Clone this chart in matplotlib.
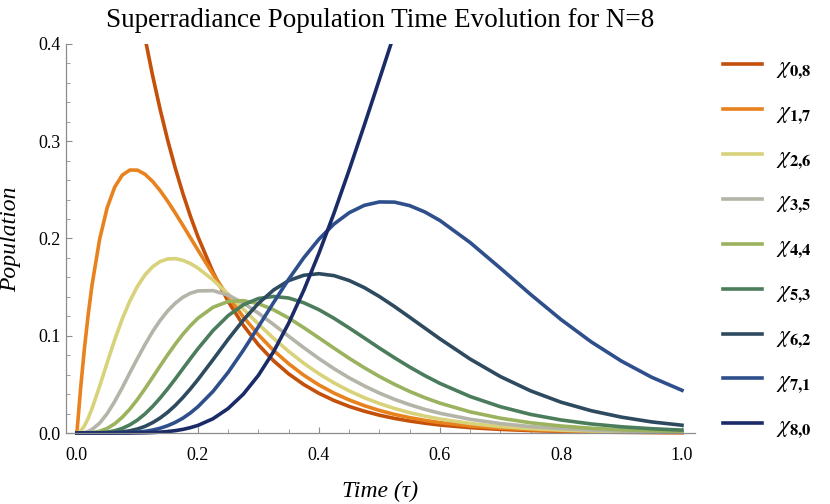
import matplotlib
matplotlib.use('Agg')
from matplotlib import pyplot as plt
from matplotlib.ticker import MultipleLocator, FormatStrFormatter

"""
    Superradiance population time evolution for N=8, values read off the reference curves.
"""

# time samples (tau)
time = [0.0, 0.00625, 0.0125, 0.01875, 0.025, 0.0375, 0.05, 0.0625, 0.075, 0.0875,
        0.1, 0.1125, 0.125, 0.1375, 0.15, 0.1625, 0.175, 0.1875, 0.2,
        0.225, 0.25, 0.275, 0.3, 0.325, 0.35, 0.375, 0.4, 0.425, 0.45, 0.475, 0.5,
        0.525, 0.55, 0.575, 0.6, 0.65, 0.7, 0.75, 0.8, 0.85, 0.9, 0.95, 1.0]

# populations chi_{k, 8-k}
p0 = [1.0, 0.9512, 0.9048, 0.8607, 0.8187, 0.7408, 0.6703, 0.6065, 0.5488, 0.4966,
      0.4493, 0.4066, 0.3679, 0.3329, 0.3012, 0.2725, 0.2466, 0.2231, 0.2019,
      0.1653, 0.1353, 0.1108, 0.0907, 0.0743, 0.0608, 0.0498, 0.0408, 0.0334, 0.0273, 0.0224, 0.0183,
      0.0150, 0.0123, 0.0101, 0.0082, 0.0055, 0.0037, 0.0025, 0.0017, 0.0011, 0.0007, 0.0005, 0.0003]
p1 = [0.0, 0.0467, 0.0872, 0.1221, 0.1521, 0.1990, 0.2316, 0.2529, 0.2652, 0.2704,
      0.2703, 0.2661, 0.2588, 0.2493, 0.2383, 0.2263, 0.2137, 0.2009, 0.1881,
      0.1633, 0.1402, 0.1194, 0.1010, 0.0849, 0.0712, 0.0594, 0.0494, 0.0410, 0.0340, 0.0281, 0.0232,
      0.0191, 0.0158, 0.0130, 0.0107, 0.0072, 0.0049, 0.0033, 0.0022, 0.0015, 0.0010, 0.0007, 0.0004]
p2 = [0.0, 0.0020, 0.0074, 0.0153, 0.0251, 0.0479, 0.0722, 0.0959, 0.1173, 0.1357,
      0.1508, 0.1625, 0.1709, 0.1763, 0.1789, 0.1793, 0.1776, 0.1743, 0.1696,
      0.1574, 0.1428, 0.1274, 0.1120, 0.0974, 0.0839, 0.0717, 0.0609, 0.0515, 0.0433, 0.0363, 0.0303,
      0.0252, 0.0209, 0.0174, 0.0144, 0.0098, 0.0066, 0.0045, 0.0030, 0.0021, 0.0014, 0.0009, 0.0006]
p3 = [0.0, 0.0001, 0.0005, 0.0017, 0.0036, 0.0101, 0.0199, 0.0324, 0.0466, 0.0619,
      0.0766, 0.0909, 0.1041, 0.1157, 0.1255, 0.1334, 0.1395, 0.1437, 0.1461,
      0.1464, 0.1418, 0.1336, 0.1232, 0.1116, 0.0995, 0.0877, 0.0765, 0.0661, 0.0567, 0.0484, 0.0410,
      0.0346, 0.0291, 0.0243, 0.0203, 0.0141, 0.0097, 0.0066, 0.0045, 0.0030, 0.0021, 0.0014, 0.0009]
p4 = [0.0, 0.0, 0.0, 0.0002, 0.0004, 0.0018, 0.0047, 0.0095, 0.0162, 0.0246,
      0.0345, 0.0455, 0.0571, 0.0689, 0.0804, 0.0913, 0.1014, 0.1103, 0.1180,
      0.1293, 0.1352, 0.1361, 0.1330, 0.1267, 0.1182, 0.1083, 0.0978, 0.0872, 0.0768, 0.0671, 0.0581,
      0.0500, 0.0427, 0.0363, 0.0307, 0.0217, 0.0152, 0.0105, 0.0072, 0.0049, 0.0033, 0.0023, 0.0015]
p5 = [0.0, 0.0, 0.0, 0.0, 0.0, 0.0003, 0.0009, 0.0023, 0.0047, 0.0084,
      0.0133, 0.0196, 0.0272, 0.0359, 0.0454, 0.0555, 0.0660, 0.0764, 0.0866,
      0.1054, 0.1207, 0.1318, 0.1383, 0.1404, 0.1388, 0.1339, 0.1268, 0.1179, 0.1080, 0.0977, 0.0873,
      0.0773, 0.0678, 0.0590, 0.0510, 0.0375, 0.0270, 0.0191, 0.0134, 0.0093, 0.0064, 0.0044, 0.0030]
p6 = [0.0, 0.0, 0.0, 0.0, 0.0, 0.0, 0.0001, 0.0004, 0.0011, 0.0023,
      0.0041, 0.0068, 0.0106, 0.0154, 0.0213, 0.0283, 0.0364, 0.0453, 0.0549,
      0.0754, 0.0964, 0.1161, 0.1333, 0.1470, 0.1567, 0.1622, 0.1638, 0.1618, 0.1568, 0.1495, 0.1403,
      0.1300, 0.1190, 0.1079, 0.0968, 0.0760, 0.0580, 0.0433, 0.0317, 0.0229, 0.0163, 0.0114, 0.0080]
p7 = [0.0, 0.0, 0.0, 0.0, 0.0, 0.0, 0.0, 0.0001, 0.0002, 0.0004,
      0.0009, 0.0017, 0.0030, 0.0049, 0.0075, 0.0109, 0.0152, 0.0206, 0.0270,
      0.0428, 0.0624, 0.0850, 0.1093, 0.1341, 0.1581, 0.1802, 0.1993, 0.2149, 0.2265, 0.2341, 0.2376,
      0.2374, 0.2338, 0.2273, 0.2185, 0.1958, 0.1694, 0.1424, 0.1167, 0.0937, 0.0739, 0.0573, 0.0439]
p8 = [0.0, 0.0, 0.0, 0.0, 0.0, 0.0, 0.0, 0.0, 0.0, 0.0,
      0.0001, 0.0002, 0.0005, 0.0009, 0.0015, 0.0024, 0.0037, 0.0055, 0.0078,
      0.0147, 0.0252, 0.0399, 0.0593, 0.0836, 0.1129, 0.1468, 0.1848, 0.2262, 0.2705, 0.3166, 0.3638,
      0.4114]  # leaves the plot after ~0.52

labels = [r'$\chi_{\mathbf{0{,}8}}$', r'$\chi_{\mathbf{1{,}7}}$', r'$\chi_{\mathbf{2{,}6}}$',
          r'$\chi_{\mathbf{3{,}5}}$', r'$\chi_{\mathbf{4{,}4}}$', r'$\chi_{\mathbf{5{,}3}}$',
          r'$\chi_{\mathbf{6{,}2}}$', r'$\chi_{\mathbf{7{,}1}}$', r'$\chi_{\mathbf{8{,}0}}$']
colors = ['#c4500a', '#e8821e', '#d8d27a', '#b4b4a8', '#9bb25e',
          '#4b7d5c', '#2d4a5f', '#2e4f8b', '#1b2b68']

plt.rcParams['font.family'] = ['Liberation Serif', 'DejaVu Serif']
plt.rcParams['mathtext.fontset'] = 'stix'

W, H = 830, 504
fig = plt.figure(figsize=(W / 100, H / 100), dpi=100)

# pixel frame of the plot: y=0 at 433, y=0.4 at 44, x spans 66..695
y_lo = -0.005
px_per_unit = (433 - 44) / 0.4
bottom_px = 433 + (0 - y_lo) * px_per_unit
ax = fig.add_axes([66 / W, (H - bottom_px) / H, (695 - 66) / W, (bottom_px - 44) / H])

for vals, col, lab in zip([p0, p1, p2, p3, p4, p5, p6, p7, p8], colors, labels):
    ax.plot(time[:len(vals)], vals, color=col, lw=2.6, label=lab)

ax.set_xlim(-0.018, 1.0215)
ax.set_ylim(y_lo, 0.4)

ax.spines['top'].set_visible(False)
ax.spines['right'].set_visible(False)
ax.spines['bottom'].set_position(('data', 0))
ax.spines['left'].set_bounds(0, 0.4)
for s in ['left', 'bottom']:
    ax.spines[s].set_color('#8c8c8c')
    ax.spines[s].set_linewidth(0.9)

ax.xaxis.set_major_locator(MultipleLocator(0.2))
ax.xaxis.set_minor_locator(MultipleLocator(0.05))
ax.yaxis.set_major_locator(MultipleLocator(0.1))
ax.yaxis.set_minor_locator(MultipleLocator(0.02))
ax.xaxis.set_major_formatter(FormatStrFormatter('%.1f'))
ax.yaxis.set_major_formatter(FormatStrFormatter('%.1f'))
ax.tick_params(which='major', direction='in', length=4.5, width=0.8, color='#8c8c8c', labelsize=13)
ax.tick_params(which='minor', direction='in', length=2.8, width=0.7, color='#a0a0a0')
ax.tick_params(axis='x', which='major', pad=10)
ax.tick_params(axis='y', which='major', pad=4)

ax.set_title('Superradiance Population Time Evolution for N=8', fontsize=19.5, pad=12)
ax.set_xlabel('Time (τ)', fontsize=17, style='italic')
ax.set_ylabel('Population', fontsize=17, style='italic')
ax.xaxis.set_label_coords(0.5, -0.109)
ax.yaxis.set_label_coords(-0.0715, 0.504)

ax.legend(loc='upper left', bbox_to_anchor=(723 / W, 1 - 56 / H), bbox_transform=fig.transFigure,
          frameon=False, fontsize=17, handlelength=1.65, handletextpad=0.6,
          labelspacing=0.85, borderpad=0, borderaxespad=0)

plt.savefig('out.png', dpi=100)
